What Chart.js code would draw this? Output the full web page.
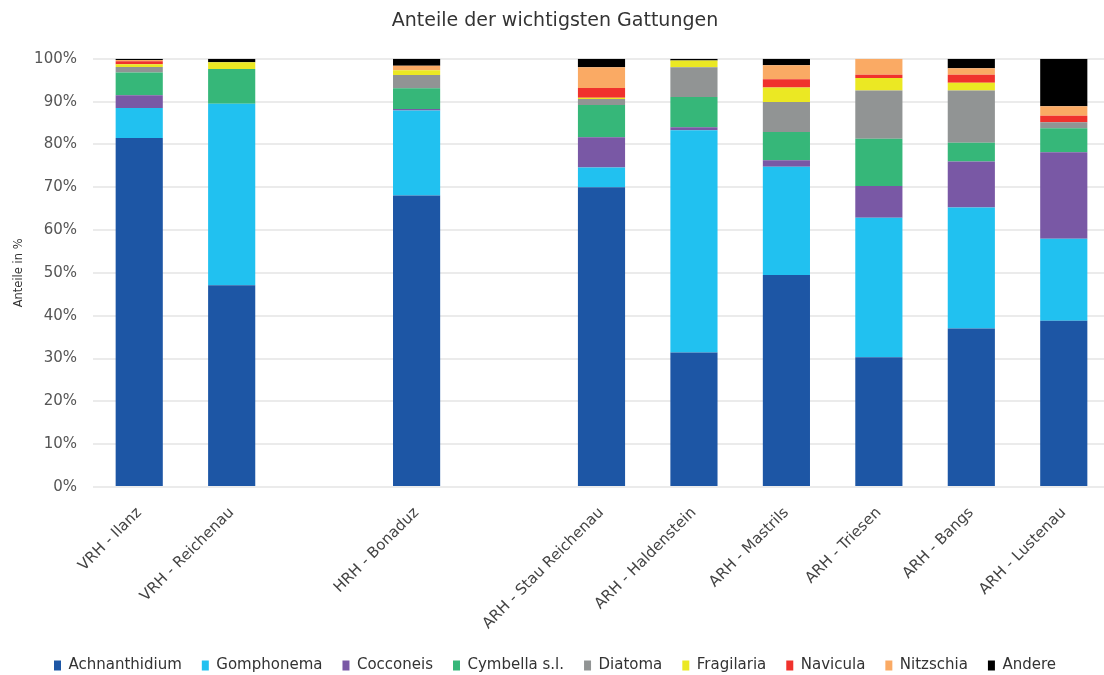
<!DOCTYPE html>
<html lang="de">
<head>
<meta charset="utf-8">
<title>Anteile der wichtigsten Gattungen</title>
<script src="https://cdn.jsdelivr.net/npm/chart.js@4/dist/chart.umd.min.js"></script>
<style>
  html, body { margin: 0; padding: 0; background: #ffffff; overflow: hidden; }
  #wrap { width: 1113px; height: 675px; overflow: hidden; }
  canvas { display: block; }
</style>
</head>
<body>
<div id="wrap"><canvas id="chart" width="1113" height="675"></canvas></div>
<script>
// Messstellen (leere Einträge trennen die Rheinabschnitte)
const categories = [
  'VRH - Ilanz', 'VRH - Reichenau', '', 'HRH - Bonaduz', '',
  'ARH - Stau Reichenau', 'ARH - Haldenstein', 'ARH - Mastrils',
  'ARH - Triesen', 'ARH - Bangs', 'ARH - Lustenau'
];

// Anteile je Gattung in %
const achnanthidium = [81.5, 47.1, null, 68.1, null, 70.0, 31.4, 49.5, 30.3, 37.0, 38.8];
const gomphonema    = [ 7.0, 42.4, null, 19.8, null,  4.6, 51.9, 25.3, 32.6, 28.3, 19.2];
const cocconeis     = [ 3.0,  0.0, null,  0.4, null,  7.1,  0.7,  1.5,  7.4, 10.7, 20.2];
const cymbella      = [ 5.3,  8.1, null,  4.8, null,  7.5,  7.1,  6.6, 11.0,  4.4,  5.6];
const diatoma       = [ 1.3,  0.0, null,  3.1, null,  1.4,  6.9,  7.0, 11.3, 12.2,  1.4];
const fragilaria    = [ 0.6,  1.6, null,  1.1, null,  0.3,  1.6,  3.4,  2.9,  1.8,  0.0];
const navicula      = [ 0.7,  0.0, null,  0.0, null,  2.3,  0.0,  1.9,  0.8,  1.9,  1.5];
const nitzschia     = [ 0.3,  0.0, null,  1.1, null,  4.8,  0.0,  3.3,  3.7,  1.5,  2.2];
const andere        = [ 0.3,  0.8, null,  1.6, null,  2.0,  0.4,  1.5,  0.0,  2.2, 11.1];

const yTicks = [0, 10, 20, 30, 40, 50, 60, 70, 80, 90, 100];

const series = [
  { label: 'Achnanthidium', data: achnanthidium, color: '#1d56a5' },
  { label: 'Gomphonema',    data: gomphonema,    color: '#21c1f0' },
  { label: 'Cocconeis',     data: cocconeis,     color: '#7958a5' },
  { label: 'Cymbella s.l.', data: cymbella,      color: '#36b779' },
  { label: 'Diatoma',       data: diatoma,       color: '#919494' },
  { label: 'Fragilaria',    data: fragilaria,    color: '#ebe823' },
  { label: 'Navicula',      data: navicula,      color: '#f0322d' },
  { label: 'Nitzschia',     data: nitzschia,     color: '#faaa64' },
  { label: 'Andere',        data: andere,        color: '#000000' }
];

const FONT = '"DejaVu Sans", "Liberation Sans", Arial, sans-serif';

new Chart(document.getElementById('chart'), {
  type: 'bar',
  data: {
    labels: categories,
    datasets: series.map(s => ({
      label: s.label,
      data: s.data,
      backgroundColor: s.color,
      borderWidth: 0,
      barPercentage: 0.51,
      categoryPercentage: 1.0
    }))
  },
  options: {
    responsive: false,
    animation: false,
    devicePixelRatio: 1,
    layout: { padding: { left: 0, right: 3, top: 0, bottom: -8 } },
    plugins: {
      title: {
        display: true,
        text: 'Anteile der wichtigsten Gattungen',
        color: '#333333',
        font: { family: FONT, size: 19, weight: 'normal' },
        padding: { top: 10, bottom: 26 }
      },
      legend: {
        position: 'bottom',
        labels: {
          color: '#333333',
          font: { family: FONT, size: 15 },
          boxWidth: 7,
          boxHeight: 10,
          padding: 20
        }
      },
      tooltip: { enabled: false }
    },
    scales: {
      x: {
        stacked: true,
        grid: { display: false, drawTicks: false },
        border: { display: false },
        ticks: {
          autoSkip: false,
          maxRotation: 45,
          minRotation: 45,
          padding: 17,
          color: '#444444',
          font: { family: FONT, size: 15 }
        },
        afterFit(scale) { scale.height = 151; }
      },
      y: {
        stacked: true,
        min: 0,
        max: 100,
        afterBuildTicks(scale) { scale.ticks = yTicks.map(v => ({ value: v })); },
        grid: { color: '#ebebeb', lineWidth: 2, drawTicks: false },
        border: { display: false },
        ticks: {
          padding: 16,
          color: '#555555',
          font: { family: FONT, size: 15 },
          callback: v => v + '%'
        },
        title: {
          display: true,
          text: 'Anteile in %',
          color: '#333333',
          font: { family: FONT, size: 11.5 },
          padding: { top: 12, bottom: 0 }
        },
        afterFit(scale) { scale.width = 93; }
      }
    }
  }
});
</script>
</body>
</html>
